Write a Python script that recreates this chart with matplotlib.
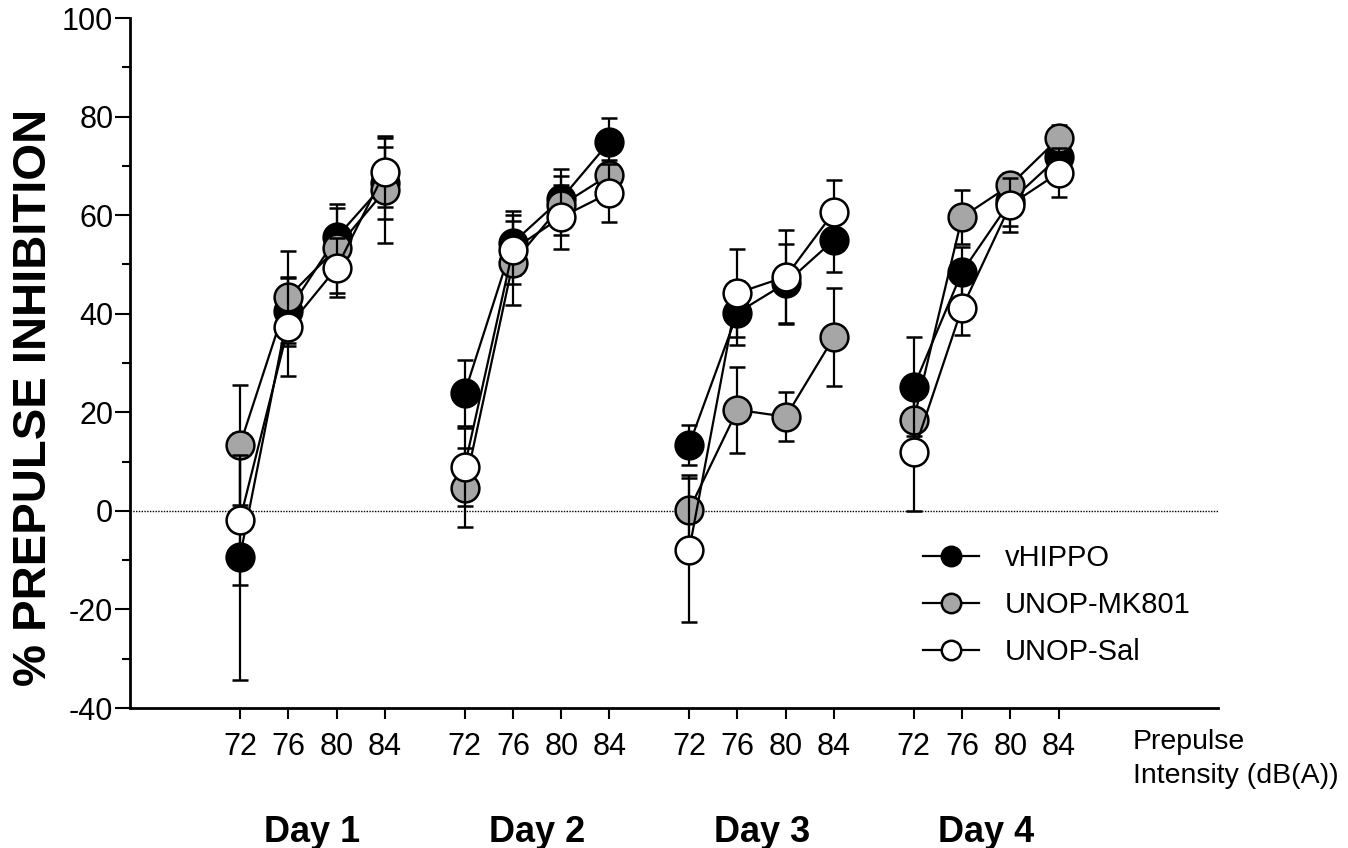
import numpy as np
import matplotlib
matplotlib.use('Agg')
import matplotlib.pyplot as plt
from matplotlib.ticker import MultipleLocator
from matplotlib.lines import Line2D
import matplotlib.transforms as mtransforms

plt.rcParams['font.family'] = ['Liberation Sans', 'DejaVu Sans']
plt.rcParams['axes.unicode_minus'] = False

# данные: интенсивность препульса и дни
intensities = [72, 76, 80, 84]
days = ['Day 1', 'Day 2', 'Day 3', 'Day 4']

# средние значения по дням (Day 1..Day 4), 4 точки на день
vhippo = [[-9.3, 40.5, 55.5, 66.5],
          [23.9, 54.4, 63.3, 74.9],
          [13.4, 40.2, 46.2, 55.0],
          [25.2, 48.5, 62.8, 71.8]]
vhippo_sem = [[25.0, 7.0, 6.0, 7.3],
              [6.7, 6.5, 6.0, 4.8],
              [4.0, 6.5, 8.0, 6.5],
              [10.0, 5.0, 5.0, 5.0]]

mk801 = [[13.4, 43.4, 53.3, 65.0],
         [4.7, 50.3, 62.0, 68.2],
         [0.2, 20.5, 19.1, 35.3],
         [18.5, 59.6, 66.1, 75.6]]
mk801_sem = [[12.2, 9.3, 9.0, 10.6],
             [8.0, 8.5, 6.0, 3.0],
             [7.0, 8.7, 5.0, 10.0],
             [6.0, 5.5, 2.5, 2.7]]

sal = [[-1.8, 37.3, 49.3, 68.8],
       [8.9, 53.0, 59.6, 64.5],
       [-7.9, 44.2, 47.5, 60.7],
       [12.0, 41.2, 62.1, 68.6]]
sal_sem = [[13.2, 10.0, 6.0, 7.2],
           [8.0, 7.0, 6.5, 5.9],
           [14.6, 9.0, 9.5, 6.5],
           [12.0, 5.5, 5.5, 5.0]]

groups = [('vHIPPO', vhippo, vhippo_sem, 'black'),
          ('UNOP-MK801', mk801, mk801_sem, '#a6a6a6'),
          ('UNOP-Sal', sal, sal_sem, 'white')]

day_step = 4.65  # расстояние между днями (в шагах по оси x)

fig = plt.figure(figsize=(13.48, 8.48), dpi=100)
x0, x1 = 130, 1218
ax = fig.add_axes([x0 / 1348, 1 - 708 / 848, (x1 - x0) / 1348, (708 - 18) / 848])

handles = []
for k, (name, means, sems, color) in enumerate(groups):
    for d in range(len(days)):
        x = d * day_step + np.arange(len(intensities))
        ax.errorbar(x, means[d], yerr=sems[d], fmt='o-', color='black',
                    mfc=color, mec='black', mew=1.8, ms=20, lw=1.6,
                    elinewidth=1.6, capsize=5.5, capthick=1.6, zorder=3 + k)
    handles.append(Line2D([], [], color='black', lw=1.6, marker='o', ms=14,
                          mfc=color, mec='black', mew=1.8, label=name))

ax.axhline(0, color='black', lw=1, ls=(0, (1, 1)), zorder=1)

ax.set_ylim(-40, 100)
ax.set_xlim((x0 - 240) / 48.3, (x1 - 240) / 48.3)
ax.yaxis.set_major_locator(MultipleLocator(20))
ax.yaxis.set_minor_locator(MultipleLocator(10))
ax.tick_params(axis='y', which='major', length=11, width=1.5, labelsize=22, pad=1)
ax.tick_params(axis='y', which='minor', length=6, width=1.5)

xt = [d * day_step + i for d in range(len(days)) for i in range(len(intensities))]
ax.set_xticks(xt)
ax.set_xticklabels([str(v) for d in days for v in intensities])
ax.tick_params(axis='x', length=8, width=1.5, labelsize=22, pad=9)

ax.spines['top'].set_visible(False)
ax.spines['right'].set_visible(False)
ax.spines['left'].set_linewidth(2)
ax.spines['bottom'].set_linewidth(2)

ax.set_ylabel('% PREPULSE INHIBITION', fontsize=34, fontweight='bold')
ax.yaxis.set_label_coords((56 - x0) / (x1 - x0), 0.45)

trans = mtransforms.blended_transform_factory(ax.transData, ax.transAxes)
for d, day in enumerate(days):
    ax.text(d * day_step + 1.5, -0.18, day, transform=trans, ha='center', va='center',
            fontsize=26, fontweight='bold')

ax.text((1133 - 240) / 48.3, -0.03, 'Prepulse\nIntensity (dB(A))', transform=trans,
        ha='left', va='top', fontsize=20.5, linespacing=1.4)

ax.legend(handles=handles, loc='upper left', bbox_to_anchor=((897 - x0) / (x1 - x0), 0.275),
          frameon=False, fontsize=21, handlelength=1.9, labelspacing=0.65, handletextpad=0.9)

plt.savefig('out.png', dpi=100)
